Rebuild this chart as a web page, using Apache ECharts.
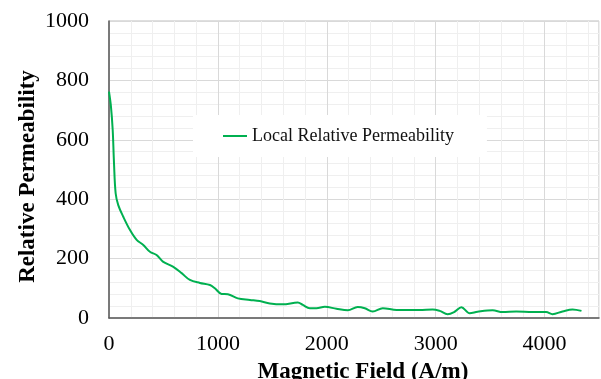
<!DOCTYPE html>
<html>
<head>
<meta charset="utf-8">
<script src="https://cdn.jsdelivr.net/npm/echarts@6/dist/echarts.min.js"></script>
<style>
  html, body { margin: 0; padding: 0; background: #fff; }
  #chart { width: 601px; height: 379px; }
</style>
</head>
<body>
<div id="chart"></div>
<script>
// Magnetic field strength (A/m)
const fieldValues = [0, 18, 34, 46, 61, 85, 131, 193, 254, 315, 376, 437, 495, 587, 667, 743,
  835, 927, 972, 1034, 1092, 1183, 1294, 1385, 1477, 1596, 1734, 1780, 1844, 1905, 1982,
  2089, 2193, 2284, 2349, 2422, 2514, 2642, 2761, 2853, 2972, 3037, 3110, 3174, 3236, 3312,
  3385, 3523, 3615, 3740, 3890, 4015, 4073, 4165, 4257, 4339];
// Local relative permeability at each field value
const permValues = [762, 712, 633, 521, 420, 380, 341, 296, 263, 246, 223, 212, 190, 173, 151, 128,
  118, 111, 100, 81, 80, 66, 61, 57, 49, 46, 52, 44, 33, 33, 38,
  31, 26, 37, 33, 22, 33, 27, 27, 27, 29, 24, 13, 21, 36, 16,
  21, 26, 20, 22, 20, 20, 13, 22, 29, 24];

const seriesName = 'Local Relative Permeability';
const xTitle = 'Magnetic Field (A/m)';
const yTitle = 'Relative Permeability';

const serif = '"Liberation Serif", "Times New Roman", serif';
const major = '#d9d9d9';
const minor = '#efefef';
const gridColors = [major, minor, minor, minor, minor];

const chart = echarts.init(document.getElementById('chart'), null, { renderer: 'canvas' });
chart.setOption({
  animation: false,
  backgroundColor: '#fff',
  grid: {
    left: 109, top: 21, right: 2, bottom: 61,
    containLabel: false,
    outerBoundsMode: 'none',
    show: true, borderColor: '#bfbfbf', borderWidth: 1
  },
  legend: {
    data: [seriesName],
    left: 193, top: 115,
    backgroundColor: '#ffffff',
    padding: [12, 33, 12, 30],
    icon: 'rect',
    itemWidth: 24, itemHeight: 2,
    textStyle: { fontFamily: serif, fontSize: 18, color: '#111' }
  },
  xAxis: {
    type: 'value',
    min: 0, max: 4500, interval: 200,
    name: xTitle,
    nameLocation: 'middle',
    nameGap: 43,
    nameMoveOverlap: false,
    nameTextStyle: { fontFamily: serif, fontSize: 23, fontWeight: 'bold', color: '#000', padding: [0, 0, 0, 18] },
    axisLine: { show: true, lineStyle: { color: '#595959', width: 1.5 } },
    axisTick: { show: false },
    axisLabel: {
      margin: 15,
      fontFamily: serif, fontSize: 22, color: '#000',
      showMaxLabel: false,
      formatter: v => (v % 1000 === 0 ? String(v) : '')
    },
    splitLine: { show: true, lineStyle: { color: gridColors, width: 1 } }
  },
  yAxis: {
    type: 'value',
    min: 0, max: 1000, interval: 40,
    name: yTitle,
    nameLocation: 'middle',
    nameRotate: 90,
    nameGap: 69,
    nameMoveOverlap: false,
    nameTextStyle: { fontFamily: serif, fontSize: 23, fontWeight: 'bold', color: '#000', padding: [0, 14, 0, 0] },
    axisLine: { show: true, lineStyle: { color: '#595959', width: 1.5 } },
    axisTick: { show: false },
    axisLabel: {
      margin: 20,
      fontFamily: serif, fontSize: 22, color: '#000',
      formatter: v => (v % 200 === 0 ? String(v) : '')
    },
    splitLine: { show: true, lineStyle: { color: gridColors, width: 1 } }
  },
  series: [{
    name: seriesName,
    type: 'line',
    data: fieldValues.map((f, i) => [f, permValues[i]]),
    smooth: 0.35,
    symbol: 'none',
    lineStyle: { color: '#00b050', width: 2 },
    itemStyle: { color: '#00b050' }
  }]
});
</script>
</body>
</html>
